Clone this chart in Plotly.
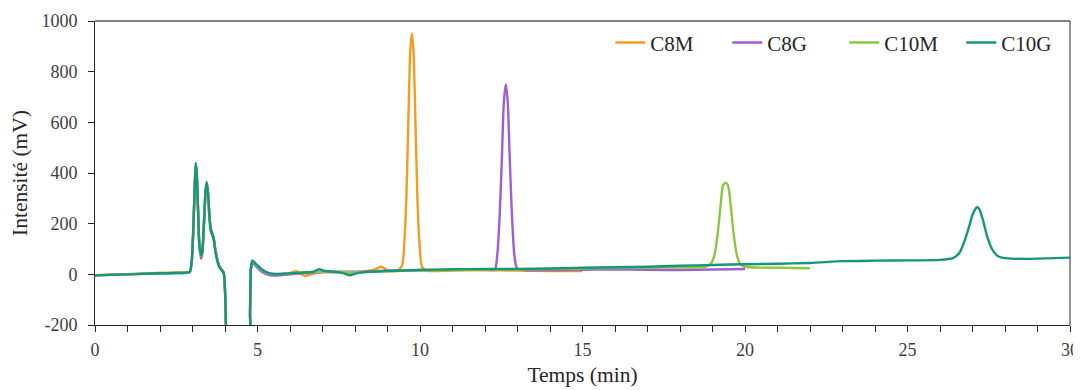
import plotly.graph_objects as go

# ---------------- data ----------------
series_names = ["C8M", "C8G", "C10M", "C10G"]
series_colors = ["#F39C1F", "#9C5FD6", "#8DC63F", "#17967A"]

t_c8m = [0, 0.5, 1, 1.5, 2, 2.5, 2.8, 2.92, 2.98, 3.03, 3.07, 3.1, 3.13, 3.17, 3.21, 3.26, 3.3, 3.35,
         3.4, 3.44, 3.48, 3.52, 3.56, 3.6, 3.65, 3.7, 3.76, 3.82, 3.9, 3.96, 4.0, 4.03, 4.06, 4.74, 4.77,
         4.8, 4.85, 4.9, 5.0, 5.15, 5.35, 5.6, 6.0, 6.2, 6.45, 6.7, 7.0, 7.3, 7.6, 7.9, 8.2, 8.6, 8.8,
         9.0, 9.3, 9.45, 9.52, 9.58, 9.64, 9.7, 9.75, 9.8, 9.86, 9.92, 9.98, 10.06, 10.2, 11, 12, 13, 14, 15]
v_c8m = [-3, -1, 1, 3, 5, 6, 7, 10, 55, 190, 350, 430, 390, 250, 115, 72, 85, 185,
         300, 330, 300, 225, 180, 160, 145, 100, 60, 35, 18, 8, -55, -200, -260, -260, -150,
         25, 50, 45, 32, 15, 3, 0, 6, 12, -6, 2, 10, 10, 8, 6, 10, 18, 30,
         16, 14, 35, 130, 300, 600, 880, 950, 880, 600, 300, 130, 30, 14, 15, 16, 15, 13, 13]

t_c8g = [0, 0.5, 1, 1.5, 2, 2.5, 2.8, 2.92, 2.98, 3.03, 3.07, 3.1, 3.13, 3.17, 3.21, 3.26, 3.3, 3.35,
         3.4, 3.44, 3.48, 3.52, 3.56, 3.6, 3.65, 3.7, 3.76, 3.82, 3.9, 3.96, 4.0, 4.03, 4.06, 4.74, 4.77,
         4.8, 4.85, 4.9, 5.0, 5.15, 5.35, 5.6, 6.0, 6.5, 7.0, 7.5, 8.0, 8.5, 9, 10, 11, 12,
         12.3, 12.38, 12.45, 12.52, 12.58, 12.64, 12.7, 12.76, 12.83, 12.9, 12.98, 13.2,
         14, 15, 16, 17, 18, 19, 20]
v_c8g = [-4, -2, 0, 2, 4, 5, 6, 9, 55, 195, 350, 430, 395, 255, 118, 62, 80, 190,
         320, 355, 315, 235, 185, 165, 145, 100, 60, 35, 18, 6, -70, -210, -260, -260, -160,
         20, 45, 40, 25, 8, -3, -5, 0, 5, 8, 10, 10, 12, 14, 17, 18, 19,
         18, 80, 230, 460, 680, 750, 680, 460, 230, 80, 25, 17,
         16, 18, 19, 18, 17, 19, 21]

t_c10m = [0, 0.5, 1, 1.5, 2, 2.5, 2.8, 2.92, 2.98, 3.03, 3.07, 3.1, 3.13, 3.17, 3.21, 3.26, 3.3, 3.35,
          3.4, 3.44, 3.48, 3.52, 3.56, 3.6, 3.65, 3.7, 3.76, 3.82, 3.9, 3.96, 4.0, 4.03, 4.06, 4.74, 4.77,
          4.8, 4.85, 4.9, 5.0, 5.15, 5.35, 5.6, 6.0, 6.5, 7.0, 7.5, 8.0, 8.5, 9,
          10, 11, 12, 13, 14, 15, 16, 17, 18,
          18.6, 18.8, 18.95, 19.05, 19.15, 19.25, 19.32, 19.4, 19.48, 19.56, 19.66, 19.76, 19.86,
          20.0, 20.3, 21, 22]
v_c10m = [-3, -1, 1, 3, 5, 6, 7, 10, 58, 198, 355, 438, 398, 258, 118, 72, 88, 198,
          325, 362, 318, 228, 172, 158, 138, 95, 55, 30, 15, 5, -60, -200, -260, -260, -150,
          28, 52, 45, 32, 15, 3, 1, 4, 8, 10, 9, 8, 10, 12,
          15, 17, 18, 19, 21, 23, 25, 26, 27,
          28, 30, 42, 71, 150, 273, 350, 362, 350, 273, 150, 71, 39,
          30, 27, 26, 24]

t_c10g = [0, 0.5, 1, 1.5, 2, 2.5, 2.8, 2.92, 2.98, 3.03, 3.07, 3.1, 3.13, 3.17, 3.21, 3.26, 3.3, 3.35,
          3.4, 3.44, 3.48, 3.52, 3.56, 3.6, 3.65, 3.7, 3.76, 3.82, 3.9, 3.96, 4.0, 4.03, 4.06, 4.74, 4.77,
          4.8, 4.85, 4.9, 5.0, 5.15, 5.35, 5.6, 6.0, 6.5, 6.75, 6.9, 7.05, 7.3, 7.6, 7.85, 8.1, 8.5, 9,
          10, 11, 12, 13, 14, 15, 16, 17, 18, 19, 20, 21, 22, 23, 24, 25, 26,
          26.4, 26.6, 26.75, 26.9, 27.0, 27.1, 27.15, 27.22, 27.32, 27.45, 27.6, 27.75, 27.9,
          28.2, 28.6, 29, 29.5, 30]
v_c10g = [-4, -2, 0, 2, 4, 5, 6, 10, 60, 200, 360, 440, 400, 260, 120, 75, 90, 200,
          330, 365, 320, 230, 175, 160, 140, 95, 55, 30, 15, 5, -60, -200, -260, -260, -150,
          30, 55, 48, 35, 18, 5, 2, 4, 8, 12, 20, 14, 10, 6, -4, 6, 10, 13,
          17, 20, 21, 21, 23, 26, 28, 30, 34, 37, 40, 42, 45, 52, 54, 55, 57,
          64, 85, 130, 190, 235, 260, 266, 255, 215, 150, 100, 75, 66,
          62, 61, 62, 64, 66]

x_ticks = [0, 5, 10, 15, 20, 25, 30]
y_ticks = [-200, 0, 200, 400, 600, 800, 1000]
y_tick_labels = ["-200", "0", "200", "400", "600", "800", "1000"]

series_t = [t_c8m, t_c8g, t_c10m, t_c10g]
series_v = [v_c8m, v_c8g, v_c10m, v_c10g]
for tt, vv in zip(series_t, series_v):
    assert len(tt) == len(vv), (len(tt), len(vv))

# ---------------- figure ----------------
fig = go.Figure()
for name, color, tt, vv in zip(series_names, series_colors, series_t, series_v):
    fig.add_trace(go.Scatter(
        x=tt, y=vv, name=name, mode="lines",
        line=dict(color=color, width=2.4, shape="spline", smoothing=0.6),
    ))

FONT = "Liberation Serif"
axis_font = dict(family=FONT, size=18, color="#404040")
title_font = dict(family=FONT, size=21.5, color="#262626")
# the page body adds an 8px margin, so the figure is sized to fit the window
fig.update_layout(
    width=1073, height=382,
    margin=dict(l=87, r=11, t=13, b=65, autoexpand=False),
    paper_bgcolor="white", plot_bgcolor="white",
    font=dict(family=FONT, size=18, color="#404040"),
    legend=dict(
        orientation="h", x=0.5285, xanchor="left", y=0.928, yanchor="middle",
        font=dict(family=FONT, size=21, color="#262626"),
        bgcolor="rgba(0,0,0,0)", tracegroupgap=0, entrywidth=72,
    ),
    xaxis=dict(
        range=[0, 30], tickvals=x_ticks, ticks="outside", ticklen=6, tickcolor="#262626",
        showline=True, linecolor="#262626", linewidth=1, showgrid=False, zeroline=False,
        tickfont=axis_font, ticklabelstandoff=2, automargin=False,
        minor=dict(dtick=1, tick0=0, ticks="outside", ticklen=6, tickcolor="#262626", showgrid=False),
        title=dict(text="Temps (min)", font=title_font, standoff=8),
    ),
    yaxis=dict(
        range=[-200, 1000], tickvals=y_ticks, ticktext=y_tick_labels,
        ticks="outside", ticklen=6, tickcolor="#262626",
        showline=True, linecolor="#262626", linewidth=1, showgrid=False, zeroline=False,
        tickfont=axis_font, ticklabelstandoff=7, automargin=False,
        title=dict(text="Intensité (mV)", font=title_font, standoff=7),
    ),
    shapes=[
        dict(type="line", xref="paper", yref="paper", x0=0, x1=1, y0=1, y1=1,
             line=dict(color="#595959", width=1.3)),
        dict(type="line", xref="paper", yref="paper", x0=1, x1=1, y0=0, y1=1,
             line=dict(color="#595959", width=1.3)),
    ],
)

fig.write_html("out.html")
